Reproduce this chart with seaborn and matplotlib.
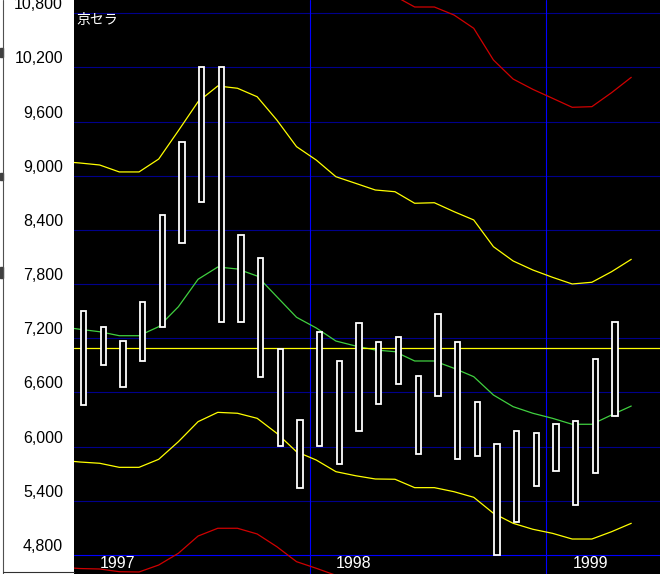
import numpy as np
import pandas as pd
import matplotlib
matplotlib.use("Agg")
import matplotlib.pyplot as plt
import matplotlib.transforms as mtransforms
from matplotlib.lines import Line2D
from matplotlib.patches import Rectangle
import seaborn as sns

# ---------------- data ----------------
title = "京セラ"
months = pd.period_range("1997-01", "1999-04", freq="M").astype(str).tolist()  # 28 boxes
box_high = [7500, 7330, 7170, 7600, 8570, 9380, 10200, 10200, 8350, 8090, 7080, 6290,
            7270, 6950, 7370, 7160, 7210, 6780, 7470, 7160, 6490, 6030, 6170, 6150,
            6250, 6280, 6970, 7380]
box_low = [6460, 6900, 6660, 6950, 7320, 8260, 8710, 7380, 7380, 6770, 6010, 5540,
           6010, 5810, 6170, 6470, 6690, 5920, 6560, 5860, 5900, 4800, 5170, 5560,
           5730, 5350, 5710, 6340]

# line points: 1996-12 .. 1999-05 (30 points)
line_months = pd.period_range("1996-12", "1999-05", freq="M").astype(str).tolist()
ma = [7330, 7300, 7273, 7229, 7229, 7329, 7550, 7854, 7990, 7968, 7890, 7661, 7433, 7315,
      7170, 7115, 7071, 7052, 6949, 6949, 6868, 6775, 6572, 6443, 6370, 6314, 6248, 6248,
      6351, 6450]
band1_up = [9160, 9142, 9120, 9043, 9043, 9186, 9500, 9821, 9995, 9970, 9876, 9618, 9323,
            9175, 8990, 8917, 8843, 8824, 8696, 8702, 8603, 8511, 8215, 8057, 7957, 7876,
            7802, 7821, 7938, 8075]
band1_dn = [5850, 5830, 5816, 5771, 5771, 5860, 6055, 6277, 6380, 6370, 6314, 6148, 5944,
            5852, 5723, 5678, 5642, 5639, 5546, 5546, 5501, 5439, 5262, 5151, 5085, 5040,
            4977, 4977, 5058, 5151]
nan = np.nan
band2_up = [nan] * 17 + [10990, 10870, 10870, 10781, 10634, 10283, 10072, 9958, 9859,
                         9759, 9766, 9921, 10091]
band2_dn = [4665, 4650, 4645, 4615, 4612, 4689, 4819, 5010, 5096, 5096, 5033, 4892, 4726,
            4653, 4575] + [nan] * 15
ref_level = 7090
y_ticks = [4800, 5400, 6000, 6600, 7200, 7800, 8400, 9000, 9600, 10200, 10800]
years = ["1997", "1998", "1999"]

# ---------------- figure ----------------
W, H, DPI = 660, 574, 100
sns.set_style("dark", {"axes.facecolor": "black"})
plt.rcParams["font.family"] = ["Liberation Sans Narrow", "Liberation Sans", "DejaVu Sans"]

fig = plt.figure(figsize=(W / DPI, H / DPI), dpi=DPI, facecolor="white")
ax = fig.add_axes([74 / W, 0, 1 - 74 / W, 1])
ax.set_facecolor("black")
for s in ax.spines.values():
    s.set_visible(False)

n = len(months)
xb = np.arange(n)
xl = np.arange(-1, len(line_months) - 1) - 0.18

ax.set_xlim(-0.482, 29.28)
ax.set_ylim(4589.5, 10947.5)

# grid
for v in y_ticks:
    ax.axhline(v, color="#0000ff" if v == 4800 else "#00008c", lw=0.8, zorder=1)
for yl in [11.5, 23.5]:
    ax.axvline(yl, color="#0000ff", lw=0.8, zorder=1)

# bands and MA via seaborn
df = pd.DataFrame({"x": xl, "ma": ma, "u1": band1_up, "d1": band1_dn,
                   "u2": band2_up, "d2": band2_dn})
for col, c in [("u2", "#d00000"), ("d2", "#d00000"), ("u1", "#ffff00"),
               ("d1", "#ffff00"), ("ma", "#40d040")]:
    sub = df[["x", col]].dropna()
    sns.lineplot(data=sub, x="x", y=col, ax=ax, color=c, lw=0.9, zorder=3,
                 estimator=None, sort=False)

ax.axhline(ref_level, color="#ffff00", lw=0.9, zorder=4)

# range boxes
hi = np.array(box_high)
lo = np.array(box_low)
ax.bar(xb, hi - lo, bottom=lo, width=0.27, facecolor="black", edgecolor="white",
       linewidth=1.3, zorder=5)

# axes labels
ax.set_xlabel("")
ax.set_ylabel("")
ax.set_xticks([])
ax.set_yticks(y_ticks)
ax.set_yticklabels([f"{v:,}" for v in y_ticks], fontsize=11.5, color="black")
ax.tick_params(axis="y", length=0, pad=8)
off = mtransforms.ScaledTranslation(0, 10 / DPI, fig.dpi_scale_trans)
for lab in ax.get_yticklabels():
    lab.set_transform(lab.get_transform() + off)

for i, yr in enumerate(years):
    ax.text(-0.5 + 12 * i + 1.33, 4711, yr, color="white", fontsize=11.5,
            ha="left", va="center", zorder=6)

fig.text(76 / W, 1 - 20 / H, title, color="white", fontsize=10, ha="left", va="center",
         family=["Noto Sans CJK JP", "DejaVu Sans"])

# window border on the left margin
fig.add_artist(Line2D([3 / W, 3 / W], [0, 1], color="#505050", lw=0.8))
fig.add_artist(Line2D([3 / W, 74 / W], [1 - 572 / H, 1 - 572 / H], color="#303030", lw=0.8))
for y0, y1 in [(48, 57), (173, 180), (267, 278)]:
    fig.add_artist(Rectangle((0, 1 - y1 / H), 3 / W, (y1 - y0) / H, color="#404040",
                             transform=fig.transFigure))

fig.savefig("out.png", dpi=DPI, facecolor="white")
